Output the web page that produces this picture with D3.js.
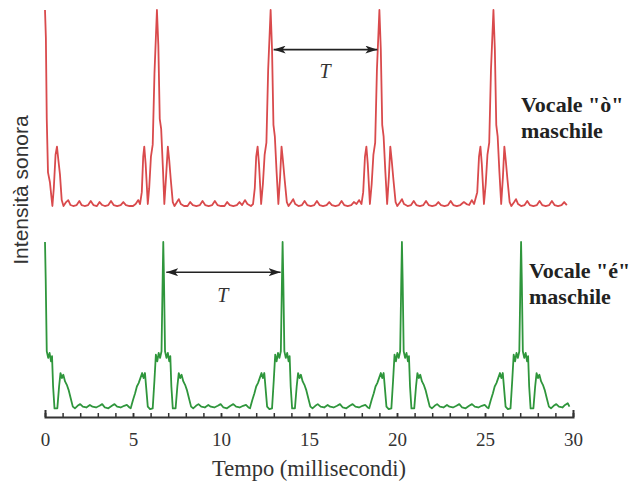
<!DOCTYPE html>
<html>
<head>
<meta charset="utf-8">
<script src="https://cdn.jsdelivr.net/npm/d3@7/dist/d3.min.js"></script>
<style>
  html, body { margin: 0; padding: 0; background: #fff; }
  svg { display: block; }
</style>
</head>
<body>
<div id="chart"></div>
<script>
// Sound intensity of two male vowels over 30 ms (relative level 0–100)
const timeTicks = [0, 5, 10, 15, 20, 25, 30];
const minorTicks = [0,1,2,3,4,5,6,7,8,9,10,11,12,13,14,15,16,17,18,19,20,21,22,23,24,25,26,27,28,29,30];

// Vowel "ò": [time (ms), level]
const vowelO = [
  [0,100],[0.05,86],[0.1,45],[0.17,18],[0.28,13],[0.36,6],[0.42,1],[0.5,10],[0.6,27],[0.68,31],[0.75,25],[0.85,17],[0.95,4],[1.05,1],
  [1.2,3],[1.32,4],[1.45,1.5],[1.6,1],[1.8,1.5],[1.95,3.5],[2.08,1.5],[2.25,1],[2.45,1.5],[2.6,3.5],[2.75,1.5],[2.95,1],[3.1,3],[3.25,1.5],[3.4,1],[3.6,1.5],[3.75,3.5],[3.9,1.5],[4.1,1],[4.3,1.5],[4.45,3],[4.6,1.5],[4.8,1],[5.0,1],[5.15,2],[5.3,4],[5.4,2],
  [5.5,8],[5.58,26],[5.64,31],[5.72,22],[5.84,2],[5.92,10],[6.02,26],[6.12,32],[6.22,68],[6.36,100],[6.44,82],[6.52,45],[6.6,40],[6.7,20],[6.78,2],[6.88,16],[6.98,31],[7.06,24],[7.14,15],[7.26,3],[7.36,1],
  [7.5,3],[7.6,4.5],[7.72,2],[7.9,1],[8.1,1],[8.25,3],[8.4,1.5],[8.6,1],[8.8,1.5],[8.95,3.5],[9.1,1.5],[9.3,1],[9.5,1.5],[9.65,3.5],[9.8,1.5],[10.0,1],[10.2,1],[10.35,3],[10.5,1.5],[10.7,1],[10.9,1.5],[11.05,3],[11.2,1.5],[11.36,4],[11.5,2],[11.7,1],
  [11.82,2],[11.92,10],[12.0,26],[12.08,31],[12.16,22],[12.28,2],[12.38,12],[12.48,27],[12.58,33],[12.68,70],[12.82,100],[12.9,80],[12.98,42],[13.06,36],[13.16,18],[13.26,2],[13.36,16],[13.44,31],[13.52,24],[13.62,14],[13.74,3],[13.84,1],
  [14.0,3],[14.1,4.5],[14.22,2],[14.4,1],[14.6,1.5],[14.75,3.5],[14.9,1.5],[15.1,1],[15.3,1.5],[15.45,3.5],[15.6,1.5],[15.8,1],[16.0,1.5],[16.15,3],[16.3,1.5],[16.5,1],[16.7,1.5],[16.85,3.5],[17.0,1.5],[17.2,1],[17.4,1.5],[17.55,3],[17.7,2],[17.85,4],[17.98,2],
  [18.08,8],[18.18,26],[18.26,31],[18.34,22],[18.46,2],[18.56,12],[18.66,27],[18.76,33],[18.86,70],[19.0,100],[19.08,80],[19.16,42],[19.24,36],[19.34,18],[19.44,2],[19.54,16],[19.62,31],[19.7,24],[19.8,14],[19.92,3],[20.02,1],
  [20.18,3],[20.28,4.5],[20.4,2],[20.6,1],[20.8,1.5],[20.95,3.5],[21.1,1.5],[21.3,1],[21.5,1.5],[21.65,3.5],[21.8,1.5],[22.0,1],[22.2,1.5],[22.35,3],[22.5,1.5],[22.7,1],[22.9,1.5],[23.05,3.5],[23.2,1.5],[23.4,1],[23.6,1.5],[23.8,3],[23.95,2],[24.1,1.5],[24.25,4],[24.38,2],
  [24.56,8],[24.66,26],[24.74,31],[24.82,22],[24.94,2],[25.04,12],[25.14,27],[25.24,33],[25.34,70],[25.48,100],[25.56,80],[25.64,42],[25.72,36],[25.82,18],[25.92,2],[26.02,16],[26.1,31],[26.18,24],[26.28,14],[26.4,3],[26.5,1],
  [26.66,3],[26.76,4.5],[26.88,2],[27.05,1],[27.25,1.5],[27.4,3.5],[27.55,1.5],[27.75,1],[27.95,1.5],[28.1,3.5],[28.25,1.5],[28.45,1],[28.65,1.5],[28.8,3.5],[28.95,1.5],[29.15,1],[29.35,1.5],[29.5,3],[29.65,1.5]
];

// Vowel "é": [time (ms), level]
const vowelE = [
  [0,100],[0.04,78],[0.1,35],[0.18,31],[0.26,34],[0.34,29],[0.4,32],[0.46,14],[0.54,1],[0.7,1],[0.8,14],[0.88,22],[0.96,19],[1.04,21],[1.14,17],[1.24,15],[1.34,12],[1.46,7],[1.58,2],[1.7,1],
  [1.85,2.5],[2.0,3.5],[2.15,2],[2.35,1.5],[2.55,3],[2.7,2],[2.9,1.5],[3.1,2.5],[3.25,3.5],[3.4,1.5],[3.6,1],[3.8,2.5],[3.95,3.5],[4.1,2],[4.3,1.5],[4.5,2.5],[4.65,3],[4.8,1.5],
  [4.87,1],[5.0,6],[5.12,10],[5.22,14],[5.32,16],[5.42,19],[5.52,22],[5.6,19],[5.68,22],[5.76,12],[5.84,2],[5.97,0.5],[6.12,1],[6.22,18],[6.3,33],[6.38,29],[6.46,34],[6.54,31],[6.62,35],[6.68,75],[6.72,100],[6.76,78],[6.82,35],[6.9,31],[6.98,34],[7.06,29],[7.12,32],[7.18,14],[7.26,1],[7.42,1],[7.52,14],[7.6,22],[7.68,19],[7.76,21],[7.86,17],[7.96,15],[8.06,12],[8.18,7],[8.3,2],[8.42,1],
  [8.58,2.5],[8.72,3.5],[8.88,2],[9.08,1.5],[9.28,3],[9.42,2],[9.62,1.5],[9.82,2.5],[9.98,3.5],[10.14,1.5],[10.34,1],[10.54,2.5],[10.7,3.5],[10.86,2],[11.06,1.5],[11.26,2.5],[11.42,3],[11.56,1.5],
  [11.65,1],[11.78,6],[11.9,10],[12.0,14],[12.1,16],[12.2,19],[12.3,22],[12.38,19],[12.46,22],[12.54,12],[12.62,2],[12.75,0.5],[12.9,1],[13.0,18],[13.08,33],[13.16,29],[13.24,34],[13.32,31],[13.4,35],[13.46,75],[13.5,100],[13.54,78],[13.6,35],[13.68,31],[13.76,34],[13.84,29],[13.9,32],[13.96,14],[14.04,1],[14.2,1],[14.3,14],[14.38,22],[14.46,19],[14.54,21],[14.64,17],[14.74,15],[14.84,12],[14.96,7],[15.08,2],[15.2,1],
  [15.36,2.5],[15.5,3.5],[15.66,2],[15.86,1.5],[16.06,3],[16.2,2],[16.4,1.5],[16.6,2.5],[16.76,3.5],[16.92,1.5],[17.12,1],[17.32,2.5],[17.48,3.5],[17.64,2],[17.84,1.5],[18.04,2.5],[18.2,3],[18.34,1.5],
  [18.43,1],[18.56,6],[18.68,10],[18.78,14],[18.88,16],[18.98,19],[19.08,22],[19.16,19],[19.24,22],[19.32,12],[19.4,2],[19.53,0.5],[19.68,1],[19.78,18],[19.86,33],[19.94,29],[20.02,34],[20.1,31],[20.18,35],[20.24,75],[20.28,100],[20.32,78],[20.38,35],[20.46,31],[20.54,34],[20.62,29],[20.68,32],[20.74,14],[20.82,1],[20.98,1],[21.08,14],[21.16,22],[21.24,19],[21.32,21],[21.42,17],[21.52,15],[21.62,12],[21.74,7],[21.86,2],[21.98,1],
  [22.14,2.5],[22.28,3.5],[22.44,2],[22.64,1.5],[22.84,3],[22.98,2],[23.18,1.5],[23.38,2.5],[23.54,3.5],[23.7,1.5],[23.9,1],[24.1,2.5],[24.26,3.5],[24.42,2],[24.62,1.5],[24.82,2.5],[24.98,3],[25.12,1.5],
  [25.2,1],[25.33,6],[25.45,10],[25.55,14],[25.65,16],[25.75,19],[25.85,22],[25.93,19],[26.01,22],[26.09,12],[26.17,2],[26.3,0.5],[26.45,1],[26.55,18],[26.63,33],[26.71,29],[26.79,34],[26.87,31],[26.95,35],[27.01,75],[27.05,100],[27.09,78],[27.15,35],[27.23,31],[27.31,34],[27.39,29],[27.45,32],[27.51,14],[27.59,1],[27.75,1],[27.85,14],[27.93,22],[28.01,19],[28.09,21],[28.19,17],[28.29,15],[28.39,12],[28.51,7],[28.63,2],[28.75,1],
  [28.9,2.5],[29.05,3.5],[29.2,2],[29.4,1.5],[29.55,3],[29.7,4],[29.8,2]
];

// Period markers: [start peak time, end peak time, level of the arrow]
const periodO = [12.82, 19.0, 80];
const periodE = [6.72, 13.5, 82];

const labelsO = ['Vocale "ò"', 'maschile'];
const labelsE = ['Vocale "é"', 'maschile'];

const W = 635, H = 485;
const svg = d3.select("#chart").append("svg").attr("width", W).attr("height", H);

const x = d3.scaleLinear().domain([0, 30]).range([45, 573]);
const yO = d3.scaleLinear().domain([0, 100]).range([208, 10]);
const yE = d3.scaleLinear().domain([0, 100]).range([410, 242]);
const axisY = 417;

const serif = "'Liberation Serif', 'Times New Roman', 'DejaVu Serif', serif";

const defs = svg.append("defs");
defs.append("marker")
  .attr("id", "head").attr("viewBox", "0 0 12 8")
  .attr("refX", 12).attr("refY", 4)
  .attr("markerWidth", 12).attr("markerHeight", 8)
  .attr("markerUnits", "userSpaceOnUse")
  .attr("orient", "auto-start-reverse")
  .append("path").attr("d", "M0,0 L12,4 L0,8 L3,4 Z").attr("fill", "#222");

// Waveforms
const lineO = d3.line().x(d => x(d[0])).y(d => yO(d[1]));
const lineE = d3.line().x(d => x(d[0])).y(d => yE(d[1]));

svg.append("path").datum(vowelO)
  .attr("d", lineO).attr("fill", "none")
  .attr("stroke", "#d94a4c").attr("stroke-width", 1.8).attr("stroke-linejoin", "round");

svg.append("path").datum(vowelE)
  .attr("d", lineE).attr("fill", "none")
  .attr("stroke", "#2f963c").attr("stroke-width", 1.8).attr("stroke-linejoin", "round");

// Time axis with millisecond ticks
const gMinor = svg.append("g").attr("transform", `translate(0,${axisY})`)
  .call(d3.axisBottom(x).tickValues(minorTicks).tickSizeInner(-4).tickSizeOuter(-7).tickFormat(""));
gMinor.select(".domain").attr("stroke", "#333").attr("stroke-width", 2);
gMinor.selectAll(".tick line").attr("stroke", "#333").attr("stroke-width", 1.5);

const gMajor = svg.append("g").attr("transform", `translate(0,${axisY})`)
  .call(d3.axisBottom(x).tickValues(timeTicks).tickSizeInner(-4).tickSizeOuter(0).tickPadding(16).tickFormat(d3.format("d")));
gMajor.select(".domain").remove();
gMajor.selectAll(".tick line").attr("stroke", "#333").attr("stroke-width", 1.5);
gMajor.selectAll(".tick text")
  .attr("font-family", serif)
  .attr("font-size", 19).attr("fill", "#333");

svg.append("text")
  .attr("x", (x(0) + x(30)) / 2).attr("y", 476)
  .attr("text-anchor", "middle")
  .attr("font-family", serif)
  .attr("font-size", 22.5).attr("fill", "#333")
  .text("Tempo (millisecondi)");

svg.append("text")
  .attr("transform", "translate(28,190) rotate(-90)")
  .attr("text-anchor", "middle")
  .attr("font-family", "'Liberation Sans', Arial, sans-serif")
  .attr("font-size", 21).attr("fill", "#333")
  .text("Intensità sonora");

// Period arrows
function period(p, y, labelDy) {
  const g = svg.append("g");
  g.append("line")
    .attr("x1", x(p[0]) + 3).attr("x2", x(p[1]) - 2)
    .attr("y1", y(p[2])).attr("y2", y(p[2]))
    .attr("stroke", "#222").attr("stroke-width", 1.6)
    .attr("marker-start", "url(#head)").attr("marker-end", "url(#head)");
  g.append("text")
    .attr("x", (x(p[0]) + x(p[1])) / 2).attr("y", y(p[2]) + labelDy)
    .attr("text-anchor", "middle")
    .attr("font-family", serif)
    .attr("font-style", "italic").attr("font-size", 20).attr("fill", "#333")
    .text("T");
}
period(periodO, yO, 28);
period(periodE, yE, 30);

// Vowel labels
function label(lines, lx, ly) {
  const t = svg.append("text")
    .attr("font-family", serif)
    .attr("font-weight", "bold").attr("font-size", 22).attr("fill", "#222");
  lines.forEach((s, i) => t.append("tspan").attr("x", lx).attr("y", ly + i * 26).text(s));
}
label(labelsO, 521, 112);
label(labelsE, 529, 278);
</script>
</body>
</html>
